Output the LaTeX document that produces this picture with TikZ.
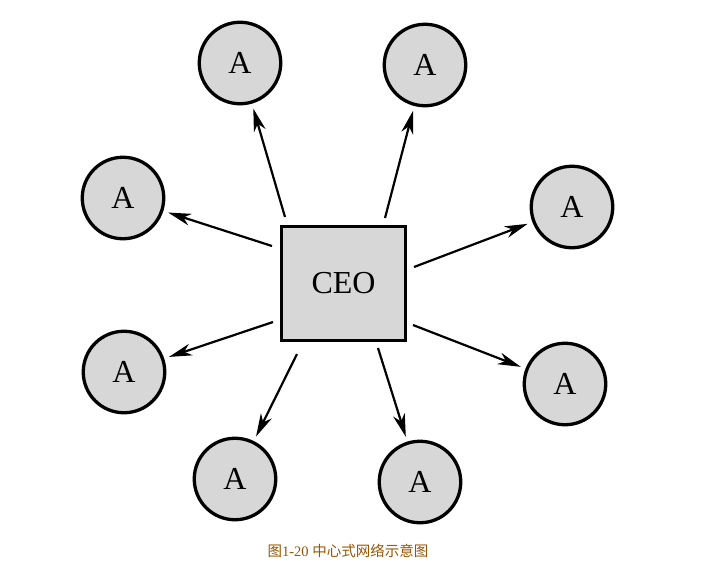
\documentclass[tikz,border=0pt]{standalone}
\usepackage{fontspec}
\setmainfont{Liberation Serif}
\newfontfamily\cjk{Noto Sans CJK SC}
\usetikzlibrary{arrows.meta}
\definecolor{capcol}{RGB}{155,85,0}
\definecolor{fillgray}{RGB}{215,215,215}
\tikzset{
  anode/.style={circle, draw=black, line width=3.3pt, fill=fillgray, minimum size=81.5pt, inner sep=0pt, font=\fontsize{32}{34}\selectfont},
  ceobox/.style={rectangle, draw=black, line width=3.3pt, fill=fillgray, minimum width=123.5pt, minimum height=113.5pt, inner sep=0pt, font=\fontsize{32}{34}\selectfont},
  link/.style={line width=2.2pt, -{Stealth[length=23pt,width=12pt,inset=7pt]}, shorten >=5pt},
  caption/.style={text=capcol, font=\fontsize{14.5}{16}\selectfont, inner sep=0pt}
}
\begin{document}
\begin{tikzpicture}[x=1pt,y=-1pt]
\useasboundingbox (0,0) rectangle (705,574);
\node[ceobox] (ceo) at (343.5,283.5) {CEO};
\node[anode] (a1) at (240,63) {A};
\node[anode] (a2) at (425,65) {A};
\node[anode] (a3) at (123,198) {A};
\node[anode] (a4) at (572,207) {A};
\node[anode] (a5) at (124,372) {A};
\node[anode] (a6) at (565,384) {A};
\node[anode] (a7) at (235,479) {A};
\node[anode] (a8) at (420,482) {A};
\coordinate (s1) at (285,217);
\coordinate (s2) at (385,218);
\coordinate (s3) at (272,246);
\coordinate (s4) at (414,267);
\coordinate (s5) at (273,322);
\coordinate (s6) at (413,325);
\coordinate (s7) at (297,354);
\coordinate (s8) at (378,348);
\draw[link] (s1) -- (a1);
\draw[link] (s2) -- (a2);
\draw[link] (s3) -- (a3);
\draw[link] (s4) -- (a4);
\draw[link] (s5) -- (a5);
\draw[link] (s6) -- (a6);
\draw[link] (s7) -- (a7);
\draw[link] (s8) -- (a8);
\node[caption] (cap) at (348,551) {{\cjk 图}1-20 {\cjk 中心式网络示意图}};
\end{tikzpicture}
\end{document}
